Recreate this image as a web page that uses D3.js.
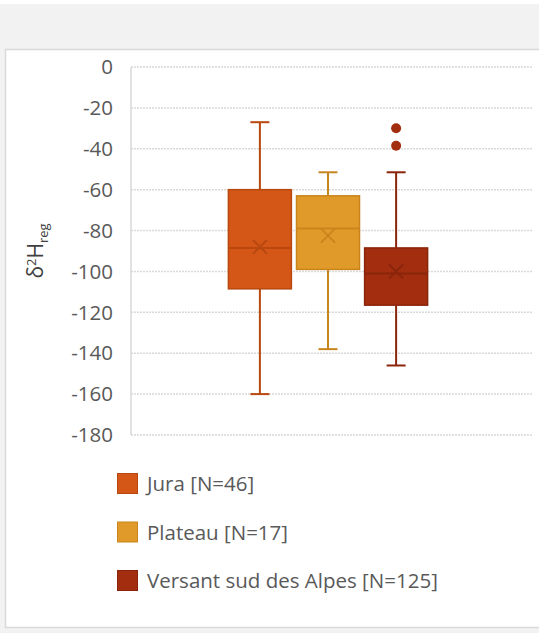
<!DOCTYPE html>
<html>
<head>
<meta charset="utf-8">
<script src="https://cdn.jsdelivr.net/npm/d3@7"></script>
<style>
  html, body { margin: 0; padding: 0; background: #f2f2f2; }
  #chart { width: 539px; height: 633px; }
  .grid line { stroke: #d9d9d9; stroke-width: 1.5; stroke-dasharray: 2 1; }
  .tick-label { font-family: "Open Sans", sans-serif; font-size: 20.5px; fill: #595959; }
  .legend text { font-family: "Open Sans", sans-serif; font-size: 20.5px; fill: #595959; }
</style>
</head>
<body>
<div id="chart"></div>
<script>
(function () {
  // Data
  const series = ['Jura [N=46]', 'Plateau [N=17]', 'Versant sud des Alpes [N=125]'];
  const colors = ['#d45717', '#e09a29', '#a32e0f'];
  const strokes = ['#b8480f', '#c9851d', '#8a250b'];
  const whiskerLow = [-160, -138, -146];
  const q1 = [-108.5, -99, -116.5];
  const median = [-88.5, -79, -101];
  const q3 = [-60, -63, -88.5];
  const whiskerHigh = [-27, -51.5, -51.5];
  const means = [-88, -82.5, -100];
  const outliers = [[], [], [-30, -38.5]];
  const yTicks = [0, -20, -40, -60, -80, -100, -120, -140, -160, -180];

  const W = 539, H = 633;
  const margin = { top: 67, left: 131, right: 7, bottom: 198 };
  const innerW = W - margin.left - margin.right;
  const innerH = H - margin.top - margin.bottom;

  const svg = d3.select('#chart').append('svg')
    .attr('width', W)
    .attr('height', H)
    .style('display', 'block');

  // background + chart panel
  svg.append('rect').attr('x', 0).attr('y', 0).attr('width', W).attr('height', 4).attr('fill', '#ffffff');
  svg.append('rect')
    .attr('x', 5.5).attr('y', 49.5)
    .attr('width', W).attr('height', 578)
    .attr('fill', '#ffffff')
    .attr('stroke', '#d9d9d9')
    .attr('stroke-width', 1.5);

  const g = svg.append('g').attr('transform', `translate(${margin.left},${margin.top})`);

  const y = d3.scaleLinear().domain([-180, 0]).range([innerH, 0]);
  const x = d3.scaleBand().domain(series).range([95, 299]).paddingInner(0.075).paddingOuter(0.035);

  // gridlines
  g.append('g').attr('class', 'grid')
    .selectAll('line')
    .data(yTicks)
    .enter().append('line')
    .attr('x1', 0).attr('x2', innerW)
    .attr('y1', d => y(d)).attr('y2', d => y(d));

  // left axis line
  g.append('line')
    .attr('x1', 0).attr('x2', 0)
    .attr('y1', y(0)).attr('y2', y(-180))
    .attr('stroke', '#d9d9d9').attr('stroke-width', 1.5);

  // tick labels
  g.append('g')
    .selectAll('text')
    .data(yTicks)
    .enter().append('text')
    .attr('class', 'tick-label')
    .attr('x', -18)
    .attr('y', d => y(d))
    .attr('dy', '0.35em')
    .attr('text-anchor', 'end')
    .text(d => d);

  // y axis title
  const title = svg.append('text')
    .attr('transform', `translate(43,${margin.top + innerH / 2}) rotate(-90)`)
    .attr('text-anchor', 'middle')
    .attr('font-family', '"Open Sans", sans-serif')
    .attr('font-size', 21)
    .attr('fill', '#404040');
  title.append('tspan').text('δ');
  title.append('tspan').attr('font-size', 13).attr('dy', -7).text('2');
  title.append('tspan').attr('dy', 7).text('H');
  title.append('tspan').attr('font-size', 13).attr('dy', 5).text('reg');

  // boxes
  const boxes = g.append('g').selectAll('g.box')
    .data(series.map((s, i) => ({ s, i })))
    .enter().append('g').attr('class', 'box');

  const bw = x.bandwidth();
  const cx = d => x(d.s) + bw / 2;
  const capW = 19;

  // whiskers
  boxes.append('line')
    .attr('x1', cx).attr('x2', cx)
    .attr('y1', d => y(whiskerHigh[d.i])).attr('y2', d => y(q3[d.i]))
    .attr('stroke', d => strokes[d.i]).attr('stroke-width', 2);
  boxes.append('line')
    .attr('x1', cx).attr('x2', cx)
    .attr('y1', d => y(q1[d.i])).attr('y2', d => y(whiskerLow[d.i]))
    .attr('stroke', d => strokes[d.i]).attr('stroke-width', 2);
  boxes.append('line')
    .attr('x1', d => cx(d) - capW / 2).attr('x2', d => cx(d) + capW / 2)
    .attr('y1', d => y(whiskerHigh[d.i])).attr('y2', d => y(whiskerHigh[d.i]))
    .attr('stroke', d => strokes[d.i]).attr('stroke-width', 2);
  boxes.append('line')
    .attr('x1', d => cx(d) - capW / 2).attr('x2', d => cx(d) + capW / 2)
    .attr('y1', d => y(whiskerLow[d.i])).attr('y2', d => y(whiskerLow[d.i]))
    .attr('stroke', d => strokes[d.i]).attr('stroke-width', 2);

  // box
  boxes.append('rect')
    .attr('x', d => x(d.s))
    .attr('y', d => y(q3[d.i]))
    .attr('width', bw)
    .attr('height', d => y(q1[d.i]) - y(q3[d.i]))
    .attr('fill', d => colors[d.i])
    .attr('stroke', d => strokes[d.i])
    .attr('stroke-width', 1.5);

  // median
  boxes.append('line')
    .attr('x1', d => x(d.s)).attr('x2', d => x(d.s) + bw)
    .attr('y1', d => y(median[d.i])).attr('y2', d => y(median[d.i]))
    .attr('stroke', d => strokes[d.i]).attr('stroke-width', 2);

  // mean marker (x)
  const mk = 7;
  boxes.append('path')
    .attr('d', d => {
      const px = cx(d), py = y(means[d.i]);
      return `M${px - mk},${py - mk}L${px + mk},${py + mk}M${px - mk},${py + mk}L${px + mk},${py - mk}`;
    })
    .attr('stroke', d => strokes[d.i])
    .attr('stroke-width', 2)
    .attr('fill', 'none');

  // outliers
  boxes.selectAll('circle')
    .data(d => outliers[d.i].map(v => ({ v, d })))
    .enter().append('circle')
    .attr('cx', o => cx(o.d))
    .attr('cy', o => y(o.v))
    .attr('r', 5)
    .attr('fill', o => colors[o.d.i]);

  // legend
  const legend = svg.append('g').attr('class', 'legend')
    .attr('transform', 'translate(117,473)');
  const items = legend.selectAll('g')
    .data(series)
    .enter().append('g')
    .attr('transform', (d, i) => `translate(0,${i * 48.5})`);
  items.append('rect')
    .attr('x', 0.5).attr('y', 0.5)
    .attr('width', 20).attr('height', 20)
    .attr('fill', (d, i) => colors[i])
    .attr('stroke', (d, i) => strokes[i])
    .attr('stroke-width', 1);
  items.append('text')
    .attr('x', 30)
    .attr('y', 11)
    .attr('dy', '0.35em')
    .text(d => d);
})();
</script>
</body>
</html>
